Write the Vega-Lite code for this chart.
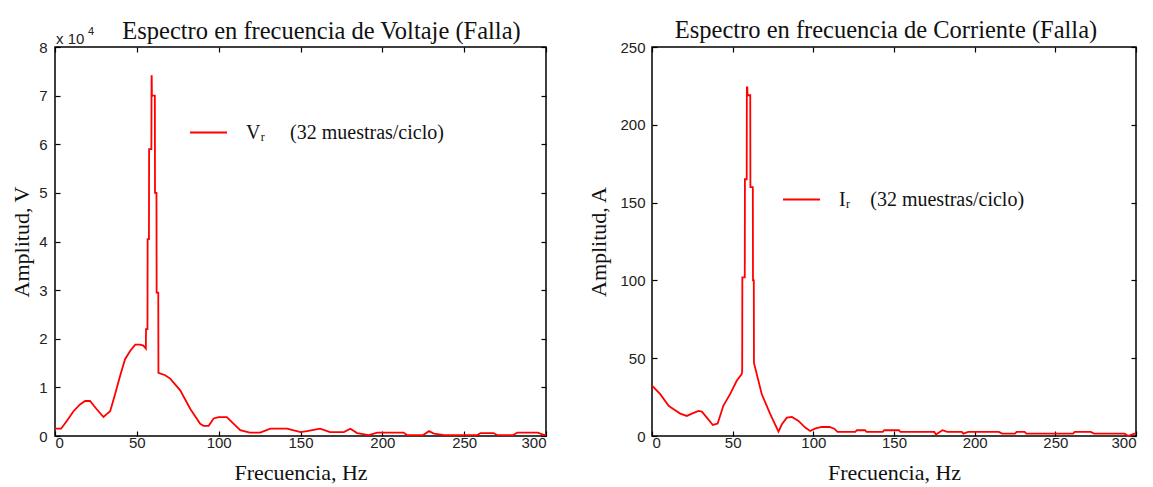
{
  "$schema": "https://vega.github.io/schema/vega-lite/v6.json",
  "background": "white",
  "padding": {"left": 9, "top": 16, "right": 5, "bottom": 0},
  "config": {
    "view": {"stroke": "black", "strokeWidth": 1.5},
    "font": "Liberation Serif",
    "axis": {
      "domain": false, "grid": false,
      "tickColor": "black", "tickSize": -5, "tickWidth": 1.2,
      "labelFont": "Liberation Sans", "labelFontSize": 15, "labelColor": "#222",
      "labelPadding": 9,
      "titleFont": "Liberation Serif", "titleFontSize": 22, "titleFontWeight": "normal", "titleColor": "#111"
    },
    "title": {"font": "Liberation Serif", "fontSize": 24.5, "fontWeight": "normal", "color": "#111"},
    "legend": {
      "orient": "none", "title": null, "symbolType": "stroke", "symbolSize": 1369,
      "symbolStrokeWidth": 2, "labelFont": "Liberation Serif", "labelFontSize": 20,
      "labelColor": "#111", "labelOffset": 18, "padding": 0, "labelLimit": 0
    }
  },
  "datasets": {
    "v": [
      {"f": 0, "a": 1500}, {"f": 3.7, "a": 1500}, {"f": 7.2, "a": 3100}, {"f": 11.3, "a": 5100},
      {"f": 15.3, "a": 6500}, {"f": 18.4, "a": 7200}, {"f": 21.4, "a": 7200}, {"f": 25.5, "a": 5500},
      {"f": 29.6, "a": 3900}, {"f": 31.6, "a": 4500}, {"f": 33.7, "a": 5100}, {"f": 36.7, "a": 8600},
      {"f": 39.8, "a": 12400}, {"f": 42.8, "a": 15800}, {"f": 45.9, "a": 17500}, {"f": 49, "a": 18800},
      {"f": 52, "a": 18800}, {"f": 54, "a": 18600}, {"f": 55.5, "a": 18000}, {"f": 55.6, "a": 22000},
      {"f": 56.5, "a": 22000}, {"f": 56.6, "a": 40500}, {"f": 57.4, "a": 40500}, {"f": 57.5, "a": 59000},
      {"f": 58.9, "a": 59000}, {"f": 59.0, "a": 74000}, {"f": 59.1, "a": 74000}, {"f": 59.2, "a": 70000},
      {"f": 61.0, "a": 70000}, {"f": 61.1, "a": 50000}, {"f": 62.0, "a": 50000}, {"f": 62.1, "a": 29500},
      {"f": 63.1, "a": 29500}, {"f": 63.2, "a": 13000}, {"f": 67.3, "a": 12500}, {"f": 70.4, "a": 11800},
      {"f": 76.5, "a": 9400}, {"f": 82.6, "a": 5600}, {"f": 88.7, "a": 2500}, {"f": 90.8, "a": 2100},
      {"f": 93.9, "a": 2100}, {"f": 96.9, "a": 3600}, {"f": 100, "a": 3900}, {"f": 105, "a": 3900},
      {"f": 109.2, "a": 2500}, {"f": 113.2, "a": 1200}, {"f": 119, "a": 700}, {"f": 125.4, "a": 700},
      {"f": 131.6, "a": 1500}, {"f": 141.8, "a": 1500}, {"f": 150, "a": 800}, {"f": 154, "a": 1000},
      {"f": 162, "a": 1500}, {"f": 168, "a": 800}, {"f": 176.5, "a": 800}, {"f": 180.5, "a": 1500},
      {"f": 184.6, "a": 600}, {"f": 191.7, "a": 200}, {"f": 196.9, "a": 700}, {"f": 213, "a": 700},
      {"f": 215, "a": 200}, {"f": 225, "a": 200}, {"f": 228.5, "a": 1000}, {"f": 231.6, "a": 500},
      {"f": 237.7, "a": 200}, {"f": 258, "a": 200}, {"f": 260, "a": 600}, {"f": 268, "a": 600},
      {"f": 270, "a": 200}, {"f": 280, "a": 200}, {"f": 282.5, "a": 700}, {"f": 295, "a": 700},
      {"f": 299, "a": 200}, {"f": 300, "a": 300}
    ],
    "i": [
      {"f": 0, "a": 32.3}, {"f": 5.1, "a": 26.9}, {"f": 10.3, "a": 19.4}, {"f": 13.4, "a": 17.2},
      {"f": 17.5, "a": 14.4}, {"f": 21.6, "a": 12.9}, {"f": 24.7, "a": 14.4}, {"f": 28.8, "a": 16.1},
      {"f": 30.9, "a": 15.7}, {"f": 34, "a": 11.8}, {"f": 37.7, "a": 7.1}, {"f": 40.7, "a": 8},
      {"f": 44.2, "a": 19.4}, {"f": 48.4, "a": 26.9}, {"f": 52.5, "a": 35.5}, {"f": 55.6, "a": 39.8},
      {"f": 55.9, "a": 41.5}, {"f": 56.0, "a": 102}, {"f": 57.5, "a": 102}, {"f": 57.6, "a": 165},
      {"f": 58.7, "a": 165}, {"f": 58.8, "a": 224}, {"f": 59.1, "a": 224}, {"f": 59.2, "a": 219},
      {"f": 60.9, "a": 219}, {"f": 61.0, "a": 160}, {"f": 62.5, "a": 160}, {"f": 62.6, "a": 100},
      {"f": 63.1, "a": 100}, {"f": 63.2, "a": 47}, {"f": 68, "a": 27}, {"f": 73.3, "a": 14},
      {"f": 78.4, "a": 2.8}, {"f": 80.5, "a": 7.5}, {"f": 83.6, "a": 11.8}, {"f": 86.7, "a": 12.3},
      {"f": 90.8, "a": 9.7}, {"f": 95, "a": 5.4}, {"f": 98, "a": 3.2}, {"f": 101, "a": 4.7},
      {"f": 105, "a": 5.8}, {"f": 110, "a": 5.8}, {"f": 113, "a": 4.7}, {"f": 115, "a": 2.6},
      {"f": 126, "a": 2.6}, {"f": 127, "a": 3.7}, {"f": 132, "a": 3.7}, {"f": 133, "a": 2.6},
      {"f": 143, "a": 2.6}, {"f": 144, "a": 3.7}, {"f": 153, "a": 3.7}, {"f": 154, "a": 2.6},
      {"f": 175, "a": 2.6}, {"f": 176, "a": 1}, {"f": 180, "a": 3.7}, {"f": 183, "a": 2.6},
      {"f": 192, "a": 2.6}, {"f": 193, "a": 1.5}, {"f": 196, "a": 2.6}, {"f": 215, "a": 2.6},
      {"f": 217, "a": 1.5}, {"f": 225, "a": 1.5}, {"f": 226, "a": 2.6}, {"f": 231, "a": 2.6},
      {"f": 232, "a": 1.5}, {"f": 261, "a": 1.5}, {"f": 262, "a": 2.6}, {"f": 272, "a": 2.6},
      {"f": 274, "a": 1.5}, {"f": 293, "a": 1.5}, {"f": 295, "a": 0}, {"f": 299, "a": 1.5},
      {"f": 300, "a": 1.5}
    ]
  },
  "spacing": 36,
  "resolve": {"scale": {"color": "independent"}},
  "hconcat": [
    {
      "width": 491,
      "height": 389,
      "title": {"text": "Espectro en frecuencia de Voltaje (Falla)", "dx": 21, "offset": -18},
      "resolve": {"axis": {"x": "independent", "y": "independent"}},
      "layer": [
        {
          "data": {"name": "v"},
          "mark": {"type": "line", "strokeWidth": 1.8},
          "encoding": {
            "x": {"field": "f", "type": "quantitative",
                  "scale": {"domain": [0, 300], "nice": false},
                  "axis": {"orient": "bottom", "title": "Frecuencia, Hz", "values": [0, 50, 100, 150, 200, 250, 300], "labelPadding": 4, "titlePadding": 12}},
            "y": {"field": "a", "type": "quantitative",
                  "scale": {"domain": [0, 80000], "nice": false},
                  "axis": {"orient": "left", "title": "Amplitud, V", "values": [0, 10000, 20000, 30000, 40000, 50000, 60000, 70000, 80000],
                           "labelExpr": "datum.value / 10000", "labelPadding": 13, "titlePadding": 5.5}},
            "color": {"datum": "Vᵣ\u00a0\u00a0\u00a0\u00a0 (32 muestras/ciclo)", "type": "nominal",
                      "scale": {"range": ["#ff0000"]},
                      "legend": {"legendX": 134, "legendY": 66}}
          }
        },
        {
          "data": {"values": [{}]},
          "mark": {"type": "text", "align": "left", "baseline": "alphabetic", "font": "Liberation Sans", "fontSize": 15, "dx": 1, "dy": -3, "color": "#222"},
          "encoding": {
            "x": {"datum": 0, "type": "quantitative",
                  "axis": {"orient": "top", "labels": false, "title": null, "values": [0, 50, 100, 150, 200, 250, 300]}},
            "y": {"datum": 80000, "type": "quantitative",
                  "axis": {"orient": "right", "labels": false, "title": null, "values": [0, 10000, 20000, 30000, 40000, 50000, 60000, 70000, 80000]}},
            "text": {"value": "x 10"}
          }
        },
        {
          "data": {"values": [{}]},
          "mark": {"type": "text", "align": "left", "baseline": "alphabetic", "font": "Liberation Sans", "fontSize": 11, "dx": 33, "dy": -12, "color": "#222"},
          "encoding": {
            "x": {"datum": 0, "type": "quantitative", "axis": null},
            "y": {"datum": 80000, "type": "quantitative", "axis": null},
            "text": {"value": "4"}
          }
        }
      ]
    },
    {
      "width": 484,
      "height": 389,
      "title": {"text": "Espectro en frecuencia de Corriente (Falla)", "dx": -8, "offset": -3},
      "resolve": {"axis": {"x": "independent", "y": "independent"}},
      "layer": [
        {
          "data": {"name": "i"},
          "mark": {"type": "line", "strokeWidth": 1.8},
          "encoding": {
            "x": {"field": "f", "type": "quantitative",
                  "scale": {"domain": [0, 300], "nice": false},
                  "axis": {"orient": "bottom", "title": "Frecuencia, Hz", "values": [0, 50, 100, 150, 200, 250, 300], "labelPadding": 4, "titlePadding": 12}},
            "y": {"field": "a", "type": "quantitative",
                  "scale": {"domain": [0, 250], "nice": false},
                  "axis": {"orient": "left", "title": "Amplitud, A", "values": [0, 50, 100, 150, 200, 250], "labelPadding": 12, "titlePadding": 9}},
            "color": {"datum": "Iᵣ\u00a0\u00a0\u00a0 (32 muestras/ciclo)", "type": "nominal",
                      "scale": {"range": ["#ff0000"]},
                      "legend": {"legendX": 130, "legendY": 133}}
          }
        },
        {
          "data": {"name": "i"},
          "mark": {"type": "line", "opacity": 0},
          "encoding": {
            "x": {"field": "f", "type": "quantitative",
                  "axis": {"orient": "top", "labels": false, "title": null, "values": [0, 50, 100, 150, 200, 250, 300]}},
            "y": {"field": "a", "type": "quantitative",
                  "axis": {"orient": "right", "labels": false, "title": null, "values": [0, 50, 100, 150, 200, 250]}}
          }
        }
      ]
    }
  ]
}
